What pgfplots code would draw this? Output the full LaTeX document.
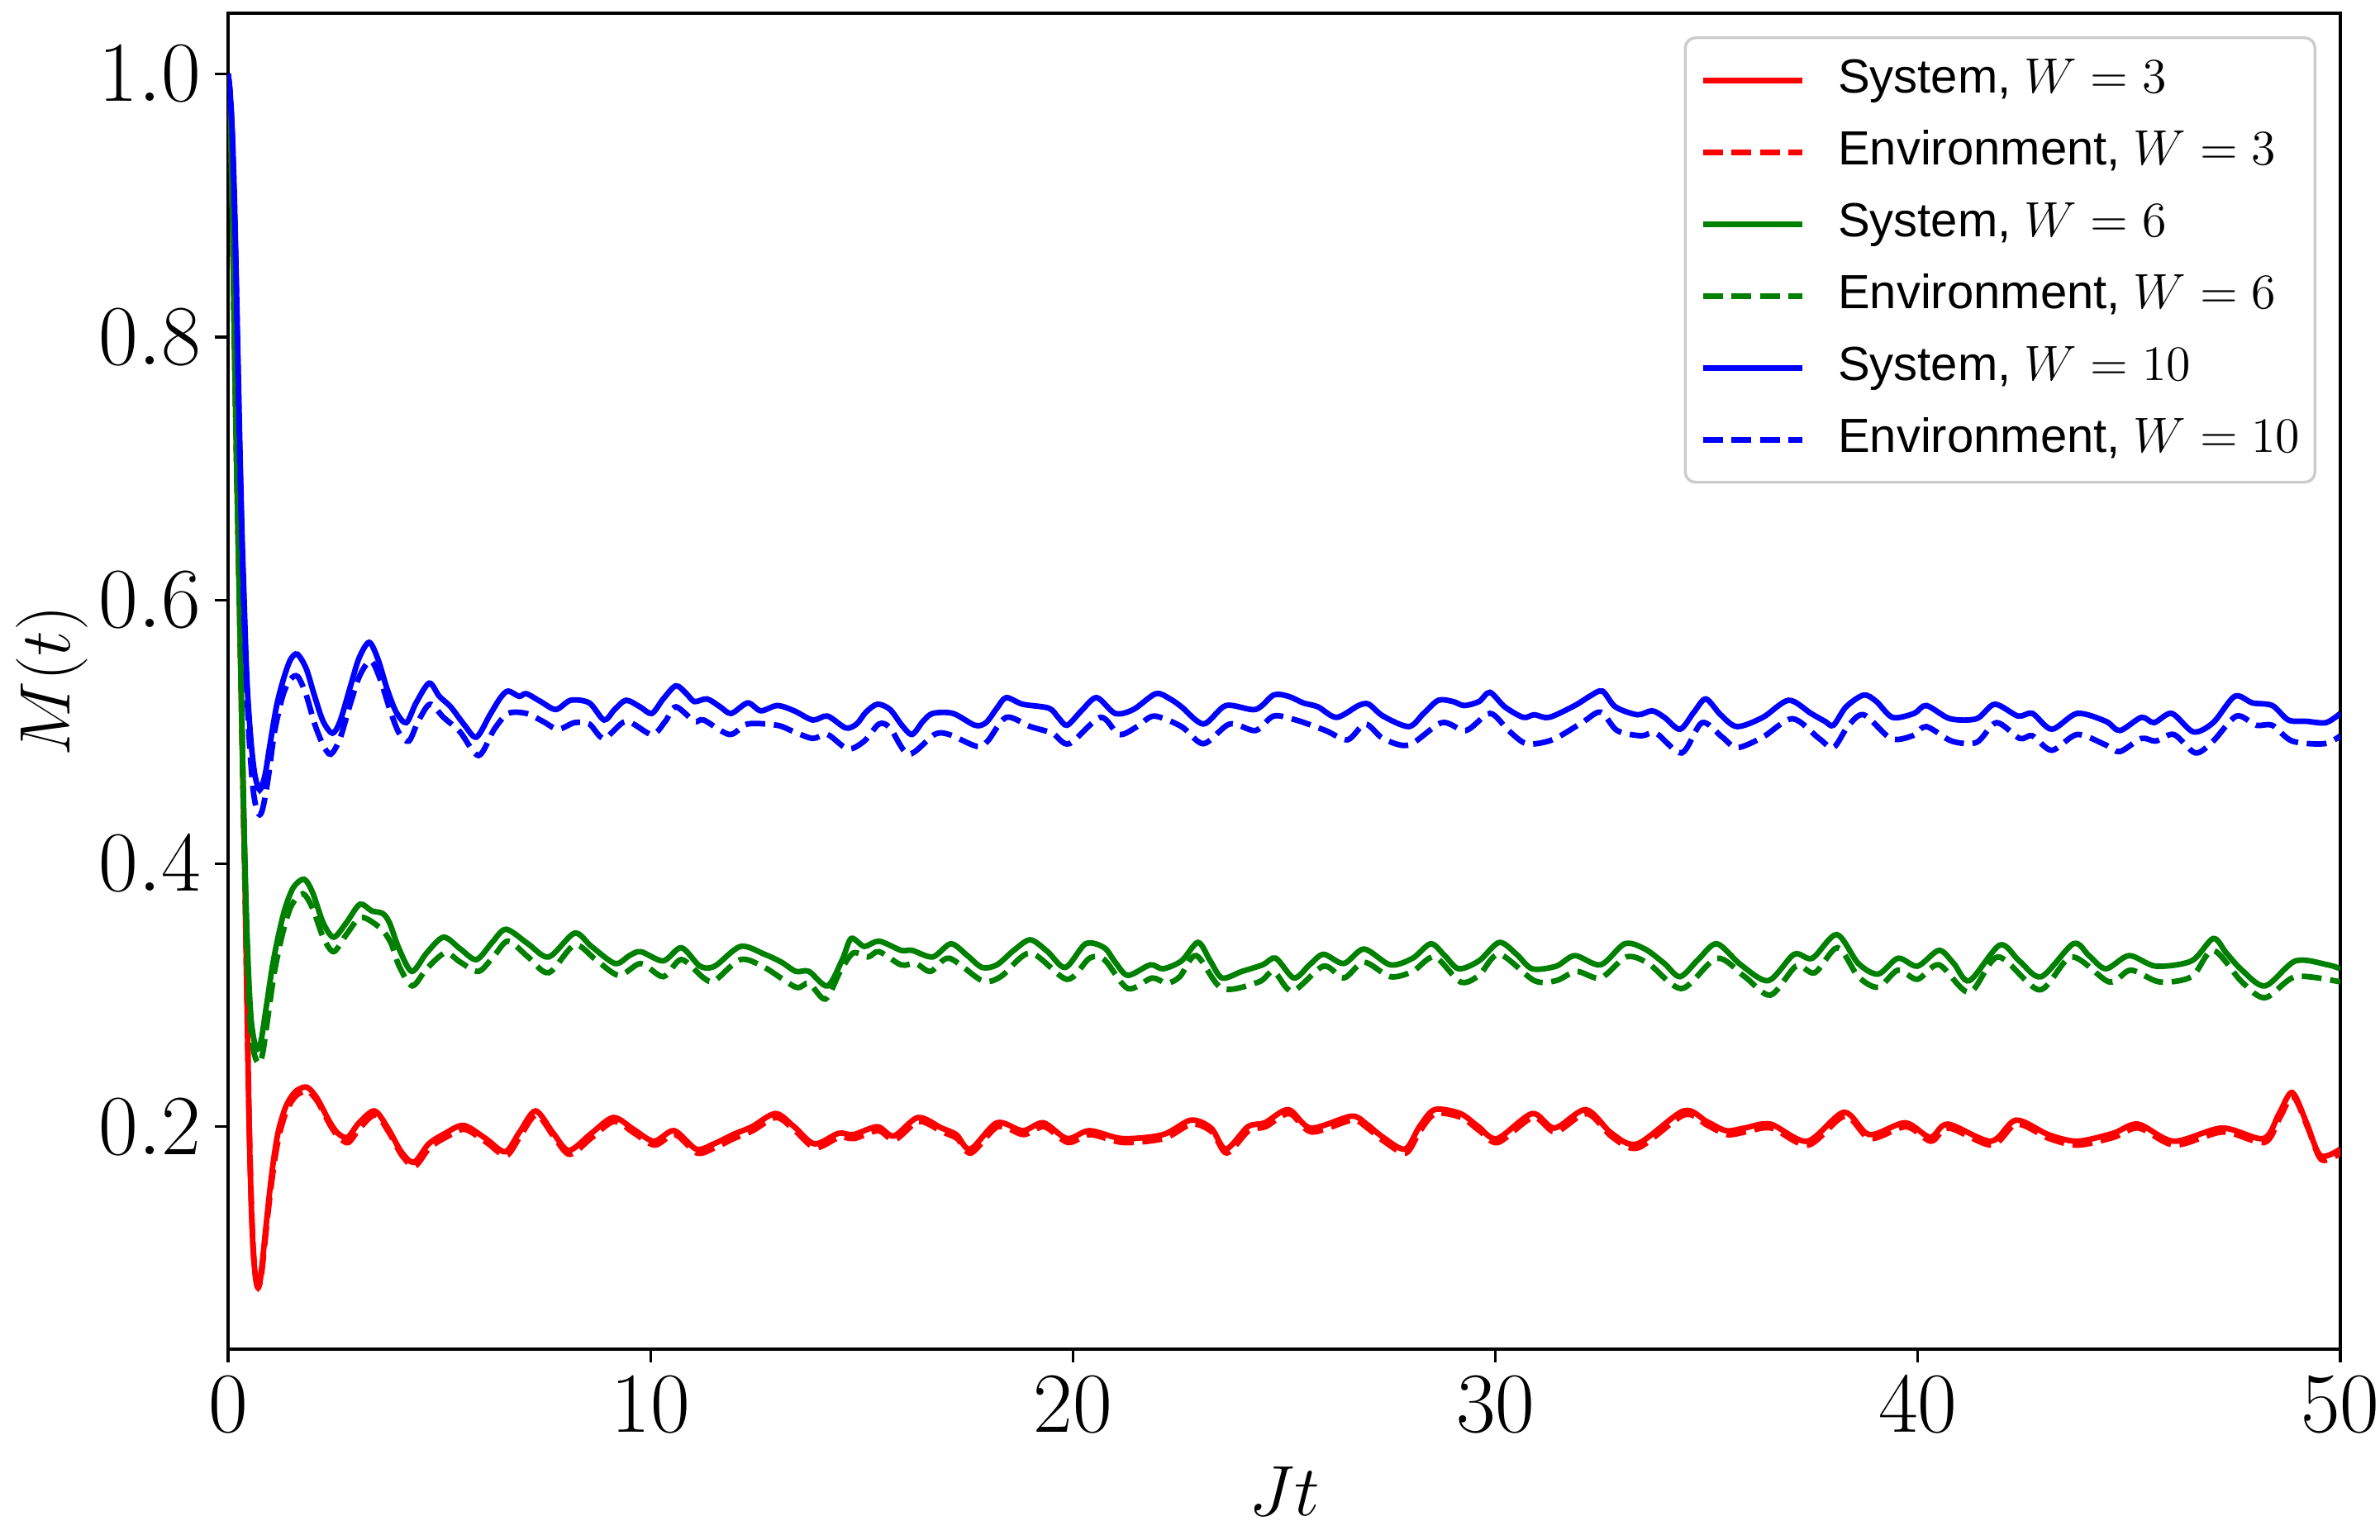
\documentclass[border=0pt]{standalone}
\usepackage{pgfplots}
\pgfplotsset{compat=1.18}
\usepackage{fontspec}
\setmainfont{Liberation Sans}
\definecolor{mplgreen}{rgb}{0,0.5,0}
\begin{document}
\begin{tikzpicture}
\useasboundingbox (0,0) rectangle (576pt,372.6pt);
\begin{axis}[
  at={(55.2pt,46pt)}, anchor=south west,
  scale only axis, width=511.2pt, height=323.4pt,
  xmin=0, xmax=50, ymin=0.031, ymax=1.046,
  xtick={0,10,20,30,40,50},
  ytick={0.2,0.4,0.6,0.8,1.0},
  yticklabel style={/pgf/number format/fixed,/pgf/number format/fixed zerofill,/pgf/number format/precision=1},
  xtick pos=lower, ytick pos=left,
  tick align=outside, major tick length=3.2pt,
  tick style={line width=0.65pt, black},
  axis line style={line width=0.68pt},
  ticklabel style={font=\fontsize{20}{24}\selectfont},
  xticklabel style={anchor=north, inner sep=0pt, yshift=-3.4pt},
  yticklabel style={anchor=east, inner sep=0pt, xshift=-3.2pt},
  xlabel={$Jt$}, ylabel={$M(t)$},
  label style={font=\fontsize{16}{19}\selectfont},
  xlabel style={at={(axis description cs:0.5,-0.1064)}, anchor=center, inner sep=0pt},
  ylabel style={at={(axis description cs:-0.0833,0.5)}, anchor=center, inner sep=0pt},
  every axis plot/.append style={line width=1.35pt, smooth, tension=0.5},
  legend cell align=left,
  legend image code/.code={\draw[#1, smooth=false] (0pt,0pt) -- (24pt,0pt);},
  legend style={at={(axis description cs:0.98865,0.98268)}, anchor=north east,
    draw=black!20, line width=0.68pt, rounded corners=2.5pt, fill=white,
    font=\fontsize{11.6}{14}\selectfont, inner xsep=3.6pt, inner ysep=4.3pt, row sep=5.4pt,
    nodes={inner sep=0pt, text height=9pt, text depth=3pt},
    /tikz/every odd column/.append style={column sep=8pt}},
]
% Red system
\addplot[red] coordinates {
(0,1.0)(0.05,0.975)(0.1,0.9)(0.15,0.8)(0.2,0.71)(0.25,0.63)(0.3,0.55)(0.35,0.465)(0.4,0.385)(0.45,0.29)(0.5,0.2)(0.55,0.14)(0.6,0.103)(0.66,0.083)(0.71,0.0775)(0.76,0.083)(0.82,0.1)(0.9,0.125)(1.0,0.155)(1.1,0.18)(1.2,0.198)(1.35,0.214)(1.5,0.223)(1.65,0.228)(1.87,0.230)(2.1,0.222)(2.4,0.204)(2.6,0.195)(2.83,0.192)(3.1,0.203)(3.47,0.212)(3.8,0.198)(4.1,0.181)(4.40,0.173)(4.75,0.187)(5.14,0.195)(5.58,0.201)(6.1,0.191)(6.56,0.181)(6.9,0.196)(7.28,0.212)(7.7,0.195)(8.07,0.182)(8.6,0.195)(9.12,0.207)(9.6,0.198)(10.08,0.189)(10.56,0.197)(11.08,0.183)(11.5,0.187)(11.95,0.194)(12.4,0.200)(12.96,0.210)(13.4,0.200)(13.88,0.187)(14.45,0.195)(14.80,0.194)(15.37,0.200)(15.76,0.193)(16.33,0.207)(16.89,0.199)(17.24,0.194)(17.57,0.183)(18.20,0.203)(18.81,0.197)(19.30,0.203)(19.86,0.191)(20.39,0.197)(21.17,0.191)(22.13,0.194)(22.79,0.205)(23.27,0.199)(23.62,0.183)(24.14,0.200)(24.54,0.203)(25.10,0.213)(25.63,0.199)(26.59,0.208)(26.95,0.202)(27.34,0.192)(27.86,0.183)(28.2,0.200)(28.56,0.213)(29.17,0.210)(29.6,0.200)(30.04,0.191)(30.87,0.210)(31.40,0.199)(32.14,0.213)(32.75,0.195)(33.36,0.187)(34.45,0.212)(35.0,0.204)(35.46,0.197)(35.90,0.199)(36.51,0.202)(37.38,0.189)(38.25,0.211)(38.85,0.194)(39.70,0.203)(40.29,0.192)(40.71,0.202)(41.73,0.189)(42.32,0.205)(43.09,0.194)(43.77,0.189)(44.62,0.195)(45.21,0.202)(46.06,0.189)(47.20,0.199)(48.18,0.191)(48.55,0.21)(48.86,0.226)(49.2,0.203)(49.53,0.178)(50.0,0.183)
};
\addlegendentry{System, $W=3$}
% Red environment
\addplot[red, dash pattern=on 4.8pt off 2.1pt] coordinates {
(0,1.0)(0.05,0.975)(0.1,0.9)(0.15,0.8)(0.2,0.71)(0.25,0.63)(0.3,0.55)(0.35,0.465)(0.4,0.385)(0.45,0.292)(0.5,0.203)(0.55,0.143)(0.6,0.105)(0.66,0.085)(0.72,0.079)(0.78,0.085)(0.84,0.102)(0.92,0.127)(1.02,0.155)(1.12,0.178)(1.22,0.195)(1.37,0.211)(1.52,0.220)(1.67,0.225)(1.89,0.227)(2.12,0.219)(2.42,0.201)(2.62,0.192)(2.85,0.188)(3.12,0.199)(3.49,0.209)(3.82,0.195)(4.12,0.178)(4.42,0.170)(4.77,0.184)(5.16,0.192)(5.6,0.198)(6.12,0.188)(6.58,0.178)(6.92,0.193)(7.3,0.209)(7.72,0.192)(8.09,0.179)(8.62,0.192)(9.14,0.204)(9.62,0.195)(10.1,0.186)(10.58,0.194)(11.1,0.180)(11.52,0.184)(11.97,0.191)(12.42,0.197)(12.98,0.207)(13.42,0.197)(13.9,0.184)(14.47,0.192)(14.82,0.191)(15.39,0.197)(15.78,0.190)(16.35,0.204)(16.91,0.196)(17.26,0.191)(17.59,0.180)(18.22,0.200)(18.83,0.194)(19.32,0.200)(19.88,0.188)(20.41,0.194)(21.19,0.188)(22.15,0.191)(22.81,0.202)(23.29,0.196)(23.64,0.180)(24.16,0.197)(24.56,0.200)(25.12,0.210)(25.65,0.196)(26.61,0.205)(26.97,0.199)(27.36,0.189)(27.88,0.180)(28.22,0.197)(28.58,0.210)(29.19,0.207)(29.62,0.197)(30.06,0.188)(30.89,0.207)(31.42,0.196)(32.16,0.210)(32.77,0.192)(33.38,0.184)(34.47,0.209)(35.02,0.201)(35.48,0.194)(35.92,0.196)(36.53,0.199)(37.4,0.186)(38.27,0.208)(38.87,0.191)(39.72,0.200)(40.31,0.189)(40.73,0.199)(41.75,0.186)(42.34,0.202)(43.11,0.191)(43.79,0.186)(44.64,0.192)(45.23,0.199)(46.08,0.186)(47.22,0.196)(48.2,0.188)(48.57,0.207)(48.88,0.223)(49.22,0.200)(49.55,0.175)(50.0,0.180)
};
\addlegendentry{Environment, $W=3$}
% Green system
\addplot[mplgreen] coordinates {
(0,1.0)(0.05,0.975)(0.1,0.9)(0.15,0.8)(0.2,0.71)(0.25,0.63)(0.3,0.55)(0.35,0.47)(0.4,0.40)(0.45,0.345)(0.5,0.305)(0.55,0.28)(0.62,0.265)(0.70,0.259)(0.78,0.265)(0.9,0.29)(1.05,0.322)(1.19,0.345)(1.35,0.366)(1.55,0.382)(1.8,0.388)(2.0,0.378)(2.25,0.355)(2.5,0.344)(2.8,0.355)(3.12,0.369)(3.4,0.364)(3.66,0.362)(3.82,0.355)(4.05,0.335)(4.35,0.318)(4.7,0.332)(5.1,0.344)(5.5,0.335)(5.88,0.327)(6.25,0.340)(6.58,0.350)(7.1,0.339)(7.59,0.329)(8.2,0.347)(8.6,0.337)(9.16,0.324)(9.5,0.330)(9.77,0.333)(10.30,0.326)(10.73,0.336)(11.17,0.322)(11.52,0.322)(12.13,0.337)(12.70,0.331)(13.1,0.325)(13.44,0.318)(13.75,0.318)(14.19,0.307)(14.54,0.327)(14.75,0.343)(15.06,0.337)(15.41,0.341)(15.93,0.334)(16.19,0.334)(16.68,0.329)(17.11,0.339)(17.5,0.330)(17.85,0.321)(18.20,0.323)(18.6,0.334)(18.99,0.342)(19.4,0.333)(19.82,0.321)(20.30,0.339)(20.74,0.336)(21.0,0.325)(21.30,0.315)(21.83,0.323)(22.13,0.320)(22.57,0.326)(22.96,0.340)(23.25,0.326)(23.53,0.313)(24.0,0.318)(24.49,0.323)(24.80,0.328)(25.23,0.313)(25.6,0.323)(25.93,0.331)(26.41,0.324)(26.89,0.335)(27.51,0.323)(28.04,0.328)(28.47,0.339)(28.8,0.330)(29.13,0.320)(29.61,0.326)(30.09,0.340)(30.5,0.331)(30.87,0.320)(31.44,0.322)(31.88,0.330)(32.49,0.323)(33.06,0.339)(33.54,0.335)(34.0,0.324)(34.37,0.314)(34.8,0.327)(35.24,0.339)(35.81,0.323)(36.46,0.311)(37.07,0.331)(37.5,0.328)(38.08,0.346)(38.59,0.324)(39.06,0.316)(39.53,0.328)(39.99,0.322)(40.50,0.334)(40.85,0.324)(41.22,0.311)(41.94,0.338)(42.4,0.326)(42.92,0.314)(43.68,0.339)(44.05,0.330)(44.45,0.320)(45.00,0.330)(45.63,0.322)(46.48,0.326)(46.99,0.343)(47.3,0.332)(47.67,0.319)(48.22,0.307)(48.94,0.326)(49.70,0.323)(50.0,0.320)
};
\addlegendentry{System, $W=6$}
% Green environment
\addplot[mplgreen, dash pattern=on 4.8pt off 2.1pt] coordinates {
(0,1.0)(0.05,0.975)(0.1,0.9)(0.15,0.8)(0.2,0.71)(0.25,0.63)(0.3,0.55)(0.35,0.465)(0.4,0.39)(0.45,0.333)(0.5,0.293)(0.55,0.27)(0.63,0.254)(0.73,0.248)(0.82,0.256)(0.95,0.285)(1.1,0.318)(1.3,0.348)(1.5,0.368)(1.77,0.377)(2.0,0.366)(2.25,0.344)(2.5,0.333)(2.8,0.346)(3.15,0.359)(3.6,0.351)(3.85,0.340)(4.05,0.322)(4.36,0.307)(4.7,0.320)(5.14,0.332)(5.5,0.325)(5.93,0.318)(6.3,0.330)(6.63,0.341)(7.1,0.329)(7.59,0.317)(8.20,0.338)(8.7,0.327)(9.25,0.315)(9.77,0.324)(10.30,0.314)(10.73,0.327)(11.26,0.313)(11.52,0.311)(12.13,0.327)(12.70,0.321)(13.44,0.306)(13.75,0.309)(14.14,0.297)(14.49,0.318)(14.80,0.332)(15.15,0.329)(15.41,0.333)(15.93,0.323)(16.28,0.324)(16.63,0.318)(17.07,0.328)(17.85,0.311)(18.29,0.314)(18.99,0.332)(19.86,0.312)(20.39,0.328)(20.74,0.327)(21.30,0.305)(21.87,0.313)(22.22,0.309)(22.53,0.314)(22.92,0.330)(23.53,0.305)(24.40,0.310)(24.75,0.318)(25.19,0.303)(25.93,0.322)(26.41,0.313)(26.89,0.325)(27.51,0.314)(28.04,0.318)(28.56,0.329)(29.17,0.310)(29.61,0.315)(30.09,0.331)(30.92,0.311)(31.44,0.311)(31.92,0.318)(32.49,0.313)(33.10,0.329)(33.62,0.324)(34.41,0.305)(35.24,0.328)(35.90,0.314)(36.51,0.300)(37.12,0.322)(37.56,0.317)(38.10,0.336)(38.59,0.314)(39.06,0.306)(39.53,0.319)(39.99,0.312)(40.50,0.323)(41.22,0.302)(41.90,0.329)(42.88,0.304)(43.64,0.329)(44.53,0.310)(45.04,0.319)(45.72,0.310)(46.48,0.314)(46.99,0.334)(47.67,0.310)(48.22,0.298)(48.94,0.314)(50.0,0.310)
};
\addlegendentry{Environment, $W=6$}
% Blue system
\addplot[blue] coordinates {
(0,1.0)(0.05,0.985)(0.1,0.955)(0.15,0.905)(0.2,0.835)(0.27,0.73)(0.33,0.65)(0.37,0.61)(0.42,0.56)(0.47,0.525)(0.55,0.49)(0.63,0.468)(0.72,0.457)(0.78,0.457)(0.88,0.468)(0.99,0.49)(1.15,0.52)(1.32,0.541)(1.48,0.555)(1.64,0.559)(1.85,0.548)(2.05,0.527)(2.25,0.508)(2.47,0.499)(2.65,0.508)(2.9,0.535)(3.1,0.556)(3.34,0.568)(3.55,0.555)(3.76,0.533)(3.98,0.515)(4.22,0.507)(4.45,0.522)(4.76,0.537)(5.0,0.527)(5.27,0.519)(5.6,0.505)(5.88,0.496)(6.2,0.513)(6.45,0.526)(6.63,0.531)(6.89,0.527)(7.06,0.529)(7.4,0.523)(7.76,0.517)(8.11,0.524)(8.55,0.522)(8.9,0.509)(9.15,0.517)(9.42,0.524)(9.75,0.519)(10.03,0.514)(10.3,0.525)(10.6,0.535)(10.85,0.529)(11.04,0.523)(11.34,0.525)(11.65,0.519)(11.91,0.514)(12.3,0.522)(12.61,0.516)(13.0,0.520)(13.4,0.516)(13.84,0.509)(14.19,0.512)(14.62,0.503)(14.88,0.506)(15.1,0.515)(15.37,0.521)(15.67,0.517)(15.95,0.505)(16.19,0.498)(16.45,0.508)(16.68,0.514)(17.16,0.514)(17.68,0.505)(17.94,0.507)(18.2,0.518)(18.42,0.526)(18.81,0.521)(19.43,0.518)(19.65,0.511)(19.86,0.505)(20.2,0.516)(20.56,0.526)(21.0,0.514)(21.43,0.517)(21.96,0.529)(22.3,0.525)(22.57,0.519)(23.09,0.506)(23.62,0.520)(24.32,0.517)(24.75,0.528)(25.10,0.527)(25.45,0.522)(25.80,0.519)(26.24,0.511)(26.76,0.520)(27.0,0.521)(27.34,0.512)(27.95,0.504)(28.3,0.514)(28.65,0.524)(29.0,0.523)(29.26,0.520)(29.61,0.523)(29.87,0.530)(30.22,0.519)(30.66,0.511)(30.92,0.513)(31.27,0.511)(31.88,0.520)(32.23,0.527)(32.53,0.531)(32.84,0.519)(33.36,0.513)(33.71,0.516)(34.0,0.511)(34.37,0.502)(34.7,0.515)(34.98,0.525)(35.33,0.513)(35.72,0.504)(36.33,0.511)(36.94,0.524)(37.47,0.514)(37.8,0.508)(38.0,0.505)(38.30,0.519)(38.72,0.528)(39.02,0.523)(39.40,0.511)(39.91,0.514)(40.20,0.520)(40.76,0.510)(41.39,0.510)(41.82,0.521)(42.37,0.512)(42.71,0.514)(43.17,0.502)(43.77,0.514)(44.45,0.508)(44.78,0.501)(45.29,0.511)(45.59,0.507)(46.01,0.514)(46.52,0.500)(46.99,0.507)(47.50,0.527)(47.92,0.522)(48.39,0.520)(48.77,0.509)(49.2,0.508)(49.66,0.507)(50.0,0.514)
};
\addlegendentry{System, $W=10$}
% Blue environment
\addplot[blue, dash pattern=on 4.8pt off 2.1pt] coordinates {
(0,1.0)(0.05,0.985)(0.1,0.953)(0.15,0.9)(0.2,0.83)(0.27,0.72)(0.33,0.64)(0.38,0.59)(0.44,0.535)(0.5,0.495)(0.58,0.46)(0.66,0.443)(0.75,0.437)(0.83,0.443)(0.95,0.465)(1.1,0.5)(1.3,0.528)(1.48,0.54)(1.65,0.542)(1.85,0.528)(2.05,0.506)(2.25,0.49)(2.43,0.483)(2.65,0.495)(2.9,0.522)(3.12,0.543)(3.38,0.554)(3.6,0.54)(3.85,0.515)(4.05,0.499)(4.28,0.493)(4.5,0.508)(4.78,0.521)(5.1,0.511)(5.49,0.500)(5.93,0.482)(6.3,0.502)(6.63,0.514)(7.06,0.514)(7.45,0.508)(7.81,0.502)(8.20,0.507)(8.55,0.506)(8.90,0.495)(9.42,0.508)(10.03,0.498)(10.35,0.508)(10.60,0.519)(11.04,0.508)(11.26,0.509)(11.87,0.498)(12.30,0.506)(13.0,0.505)(13.40,0.500)(13.84,0.495)(14.19,0.498)(14.67,0.487)(15.06,0.493)(15.41,0.506)(15.67,0.503)(16.11,0.483)(16.72,0.498)(17.07,0.498)(17.72,0.489)(17.98,0.493)(18.42,0.511)(18.99,0.504)(19.51,0.499)(19.91,0.491)(20.65,0.511)(21.09,0.498)(21.52,0.504)(21.92,0.512)(22.57,0.504)(23.09,0.491)(23.71,0.506)(24.32,0.501)(24.75,0.512)(25.28,0.509)(25.98,0.501)(26.50,0.494)(26.92,0.506)(27.34,0.495)(27.95,0.490)(28.73,0.507)(29.30,0.501)(29.87,0.514)(30.31,0.501)(30.74,0.491)(31.35,0.494)(32.05,0.507)(32.49,0.515)(32.88,0.501)(33.45,0.497)(33.80,0.499)(34.41,0.484)(34.89,0.507)(35.37,0.496)(35.72,0.488)(36.33,0.496)(37.03,0.510)(37.66,0.495)(38.00,0.488)(38.34,0.504)(38.72,0.513)(39.36,0.495)(39.87,0.497)(40.20,0.504)(40.80,0.493)(41.39,0.492)(41.86,0.507)(42.41,0.495)(42.71,0.497)(43.17,0.486)(43.77,0.498)(44.45,0.490)(44.78,0.485)(45.29,0.495)(45.63,0.493)(46.06,0.498)(46.57,0.484)(46.99,0.493)(47.54,0.512)(48.01,0.505)(48.39,0.505)(48.86,0.493)(49.62,0.491)(50.0,0.497)
};
\addlegendentry{Environment, $W=10$}
\end{axis}
\end{tikzpicture}
\end{document}
